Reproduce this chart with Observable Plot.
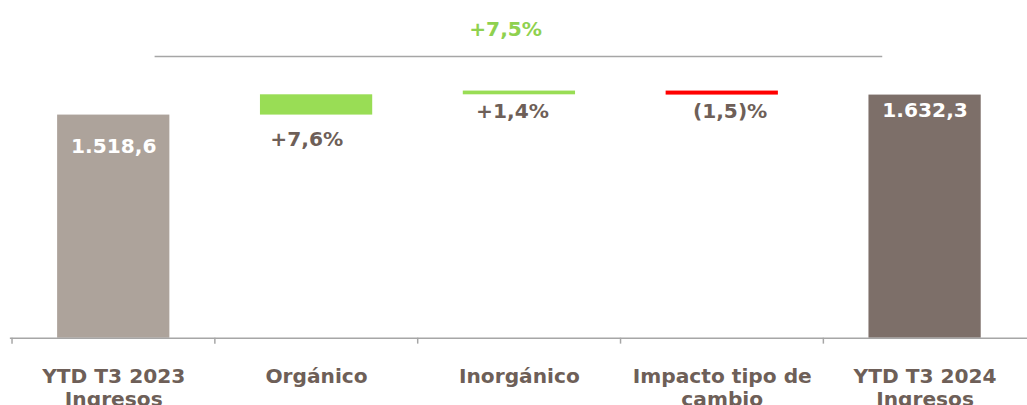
<!DOCTYPE html>
<html>
<head>
<meta charset="utf-8">
<script src="https://cdn.jsdelivr.net/npm/d3@7"></script>
<script src="https://cdn.jsdelivr.net/npm/@observablehq/plot@0.6"></script>
<style>
  html, body { margin: 0; padding: 0; background: #fff; overflow: hidden; }
  #chart { width: 1027px; height: 405px; overflow: hidden; }
</style>
</head>
<body>
<div id="chart"></div>
<script>
// ---- data ----
const categories = ["YTD T3 2023\nIngresos", "Orgánico", "Inorgánico", "Impacto tipo de\ncambio", "YTD T3 2024\nIngresos"];
const kinds = ["total", "delta", "delta", "delta", "total"];
const values = [1518.6, 115.3, 21.2, -22.8, 1632.3];
const valueLabels = ["1.518,6", "+7,6%", "+1,4%", "(1,5)%", "1.632,3"];
const totalChangeLabel = "+7,5%";

// ---- build waterfall rows ----
let running = 0;
const rows = categories.map((cat, i) => {
  let y1, y2;
  if (kinds[i] === "total") { y1 = 0; y2 = values[i]; running = values[i]; }
  else { y1 = running; y2 = running + values[i]; running = y2; }
  return {cat, i, kind: kinds[i], value: values[i], y1, y2, label: valueLabels[i]};
});

const yMin = 250, yMax = 2170;
const W = 1043, H = 405, mL = 10, mR = 0, mT = 0, mB = 62;
const bw = (W - mL - mR) / categories.length;
const textColor = "#6E5F58";
const colors = {start: "#ADA39B", end: "#7D6F69", up: "#99DD55", down: "#FF0000"};
const fillOf = d => d.kind === "total" ? (d.i === 0 ? colors.start : colors.end) : (d.value >= 0 ? colors.up : colors.down);
const bracketLevel = 1851;

const totals = rows.filter(d => d.kind === "total");
const deltas = rows.filter(d => d.kind === "delta");

const chart = Plot.plot({
  width: W, height: H,
  marginLeft: mL, marginRight: mR, marginTop: mT, marginBottom: mB,
  style: {fontFamily: "'DejaVu Sans', Verdana, sans-serif", fontSize: "20.5px", fontWeight: "bold", background: "#fff", overflow: "visible"},
  x: {domain: categories, padding: 0, axis: null, label: null},
  y: {domain: [yMin, yMax], axis: null, label: null},
  marks: [
    Plot.barY(rows, {x: "cat", y1: d => Math.max(yMin, d.kind === "total" ? yMin : d.y1), y2: "y2", fill: fillOf, insetLeft: 46, insetRight: 46}),
    Plot.ruleY([yMin], {stroke: "#A6A6A6", strokeWidth: 1.5}),
    Plot.ruleX(categories, {x: d => d, dx: -bw / 2, y1: yMin, y2: yMin, insetBottom: -6, stroke: "#A6A6A6", strokeWidth: 1.5}),
    Plot.axisX({tickSize: 0, tickPadding: 29, color: textColor, lineHeight: 1.15, fontSize: 20.5, fontWeight: "bold", anchor: "bottom", label: null}),
    // values inside total bars
    Plot.text(totals.filter(d => d.i === 0), {x: "cat", y: "y2", text: "label", fill: "#fff", dy: 32, lineAnchor: "middle"}),
    Plot.text(totals.filter(d => d.i !== 0), {x: "cat", y: "y2", text: "label", fill: "#fff", dy: 16, lineAnchor: "middle"}),
    // delta labels below each step
    Plot.text(deltas.filter(d => d.i === 1), {x: "cat", y: d => Math.min(d.y1, d.y2), text: "label", fill: textColor, dy: 25, dx: -10, lineAnchor: "middle"}),
    Plot.text(deltas.filter(d => d.i === 2), {x: "cat", y: d => Math.min(d.y1, d.y2), text: "label", fill: textColor, dy: 17, dx: -7, lineAnchor: "middle"}),
    Plot.text(deltas.filter(d => d.i === 3), {x: "cat", y: d => Math.min(d.y1, d.y2), text: "label", fill: textColor, dy: 17, dx: 8, lineAnchor: "middle"}),
    // overall change bracket
    Plot.ruleY([bracketLevel], {x1: () => categories[0], x2: () => categories[categories.length - 1], y: d => d, insetLeft: 145, insetRight: 146, stroke: "#A6A6A6", strokeWidth: 1.5}),
    Plot.text([totalChangeLabel], {x: () => categories[2], y: () => bracketLevel, text: d => d, fill: "#8FD14F", dy: -27, dx: -14, lineAnchor: "middle"})
  ]
});
document.getElementById("chart").appendChild(chart);
</script>
</body>
</html>
